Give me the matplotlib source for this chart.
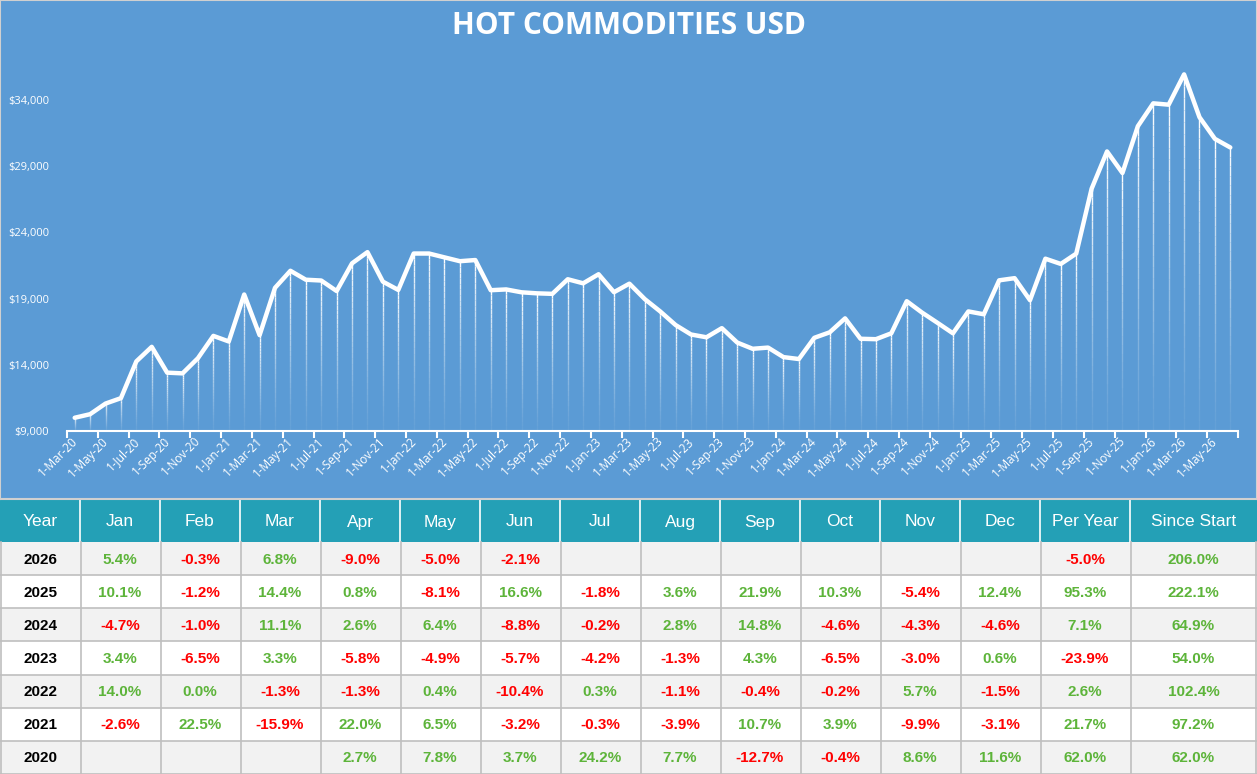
import numpy as np
import pandas as pd
import matplotlib
matplotlib.use("Agg")
import matplotlib.pyplot as plt
from matplotlib.collections import LineCollection
from matplotlib.patches import Rectangle

# ---------------- data ----------------
start_month = "2020-03-01"
prices = [
    10000, 10270, 11071, 11481, 14259, 15357, 13407, 13353, 14502, 16184,            # 2020 Mar-Dec
    15763, 19310, 16240, 19813, 21101, 20426, 20365, 19571, 21665, 22510, 20281, 19653,  # 2021
    22404, 22404, 22113, 21825, 21913, 19634, 19693, 19476, 19398, 19359, 20462, 20155,  # 2022
    20840, 19485, 20128, 18961, 18032, 17004, 16290, 16078, 16769, 15679, 15209, 15300,  # 2023
    14581, 14435, 16037, 16454, 17507, 15966, 15934, 16380, 18804, 17939, 17167, 16378,  # 2024
    18032, 17816, 20381, 20544, 18880, 22014, 21618, 22396, 27301, 30113, 28487, 32019,  # 2025
    33748, 33647, 35935, 32701, 31066, 30414,                                            # 2026 Jan-Jun
]
y_ticks = [9000, 14000, 19000, 24000, 29000, 34000]

table_header = ["Year", "Jan", "Feb", "Mar", "Apr", "May", "Jun", "Jul", "Aug",
                "Sep", "Oct", "Nov", "Dec", "Per Year", "Since Start"]
table_years = ["2026", "2025", "2024", "2023", "2022", "2021", "2020"]
r2026 = [5.4, -0.3, 6.8, -9.0, -5.0, -2.1, None, None, None, None, None, None, -5.0, 206.0]
r2025 = [10.1, -1.2, 14.4, 0.8, -8.1, 16.6, -1.8, 3.6, 21.9, 10.3, -5.4, 12.4, 95.3, 222.1]
r2024 = [-4.7, -1.0, 11.1, 2.6, 6.4, -8.8, -0.2, 2.8, 14.8, -4.6, -4.3, -4.6, 7.1, 64.9]
r2023 = [3.4, -6.5, 3.3, -5.8, -4.9, -5.7, -4.2, -1.3, 4.3, -6.5, -3.0, 0.6, -23.9, 54.0]
r2022 = [14.0, 0.0, -1.3, -1.3, 0.4, -10.4, 0.3, -1.1, -0.4, -0.2, 5.7, -1.5, 2.6, 102.4]
r2021 = [-2.6, 22.5, -15.9, 22.0, 6.5, -3.2, -0.3, -3.9, 10.7, 3.9, -9.9, -3.1, 21.7, 97.2]
r2020 = [None, None, None, 2.7, 7.8, 3.7, 24.2, 7.7, -12.7, -0.4, 8.6, 11.6, 62.0, 62.0]
table_rows = [r2026, r2025, r2024, r2023, r2022, r2021, r2020]

# ---------------- styling ----------------
W, H = 1257, 774
BLUE = "#5B9BD5"
TEAL = "#24A0B6"
GREEN = "#5DB43A"
RED = "#FF0000"
GRID = "#BFBFBF"
LIGHT = "#F2F2F2"
CH_FONT = ["Open Sans", "DejaVu Sans"]
TB_FONT = ["Liberation Sans", "DejaVu Sans"]

fig = plt.figure(figsize=(W / 100, H / 100), dpi=100, facecolor="white")

def px_rect(x0, y0, x1, y1):
    return [x0 / W, 1 - y1 / H, (x1 - x0) / W, (y1 - y0) / H]

# chart panel background
bg = fig.add_axes(px_rect(0, 0, W, 499))
bg.set_facecolor(BLUE)
bg.set_xticks([]); bg.set_yticks([])
for s in bg.spines.values():
    s.set_color("#D0D0D0"); s.set_linewidth(1.5)
bg.text(0.5, 1 - 26 / 499, "HOT COMMODITIES USD", transform=bg.transAxes,
        ha="center", va="center", color="white", fontsize=21.5, fontweight="bold",
        family=CH_FONT)

# plot axes
x0p, x1p = 67, 1238
y_base_px, y34_px = 431, 100
px_per_unit = (y_base_px - y34_px) / (34000 - 9000)
ytop_val = 39000
ytop_px = y_base_px - (ytop_val - 9000) * px_per_unit
ax = fig.add_axes(px_rect(x0p, ytop_px, x1p, y_base_px))
ax.set_facecolor("none")
n = len(prices)
xs = np.arange(n)
ax.set_xlim(-0.5, n - 0.5)
ax.set_ylim(9000, ytop_val)

# gradient drop lines
segs, cols = [], []
nseg = 30
for xi, p in zip(xs, prices):
    edges = np.linspace(9000, p, nseg + 1)
    for k in range(nseg):
        segs.append([(xi, edges[k]), (xi, edges[k + 1])])
        a = ((k + 0.5) / nseg) ** 1.3
        cols.append((1, 1, 1, 0.05 + 0.95 * a))
ax.add_collection(LineCollection(segs, colors=cols, linewidths=1.0, capstyle="butt"))

ax.plot(xs, prices, color="white", lw=3.2, solid_joinstyle="round",
        solid_capstyle="round", zorder=3)

# axes styling
for side in ["top", "right", "left"]:
    ax.spines[side].set_visible(False)
ax.spines["bottom"].set_color("white")
ax.spines["bottom"].set_linewidth(1.5)
ax.set_yticks(y_ticks)
ax.set_yticklabels([f"${v:,.0f}" for v in y_ticks], color="white",
                   fontsize=8, family=CH_FONT)
ax.tick_params(axis="y", length=0, pad=13)

dates = pd.date_range(start_month, periods=n, freq="MS")
labels = [f"1-{d.strftime('%b')}-{d.strftime('%y')}" for d in dates]
ax.set_xticks(np.arange(-0.5, n, 2))
ax.set_xticklabels([])
ax.tick_params(axis="x", length=5, width=1.5, color="white", direction="out")
for xi in range(0, n, 2):
    ax.text(xi + 0.05, 9000 - 8 / px_per_unit, labels[xi], rotation=45,
            rotation_mode="anchor", ha="right", va="center", color="white",
            fontsize=8.5, family=CH_FONT, clip_on=False)

# ---------------- table ----------------
tb = fig.add_axes([0, 0, 1, 1], zorder=-1)
tb.set_xlim(0, W); tb.set_ylim(H, 0); tb.axis("off")
col_edges = [0, 80, 160, 240, 320, 400, 480, 560, 640, 720, 800, 880, 960, 1040, 1130, W]
head_top, head_bot = 500, 542
row_h = (H - head_bot) / len(table_rows)

tb.add_patch(Rectangle((0, head_top), W, head_bot - head_top, color=TEAL, lw=0))
for i, h in enumerate(table_header):
    cx = (col_edges[i] + col_edges[i + 1]) / 2
    tb.text(cx, (head_top + head_bot) / 2 + 1, h, ha="center", va="center",
            color="white", fontsize=12.5, family=TB_FONT)
for e in col_edges[1:-1]:
    tb.plot([e, e], [head_top, head_bot], color="white", lw=1.2)

for r, (yr, vals) in enumerate(zip(table_years, table_rows)):
    top = head_bot + r * row_h
    fc = LIGHT if r % 2 == 0 else "white"
    tb.add_patch(Rectangle((0, top), W, row_h, color=fc, lw=0))
    cy = top + row_h / 2 + 1
    tb.text(40, cy, yr, ha="center", va="center", color="black", fontsize=11,
            fontweight="bold", family=TB_FONT)
    for c, v in enumerate(vals):
        if v is None:
            continue
        cx = (col_edges[c + 1] + col_edges[c + 2]) / 2
        tb.text(cx, cy, f"{v:.1f}%", ha="center", va="center",
                color=RED if v < 0 else GREEN, fontsize=11, fontweight="bold",
                family=TB_FONT)
    tb.plot([0, W], [top + row_h, top + row_h], color=GRID, lw=1.2)
for e in col_edges[1:-1]:
    tb.plot([e + 0.5, e + 0.5], [head_bot, H], color=GRID, lw=1.2)
tb.plot([0.6, 0.6], [head_bot, H], color=GRID, lw=1.2)
tb.plot([W - 0.6, W - 0.6], [head_bot, H], color=GRID, lw=1.2)

fig.savefig("out.png", dpi=100, facecolor="white")
